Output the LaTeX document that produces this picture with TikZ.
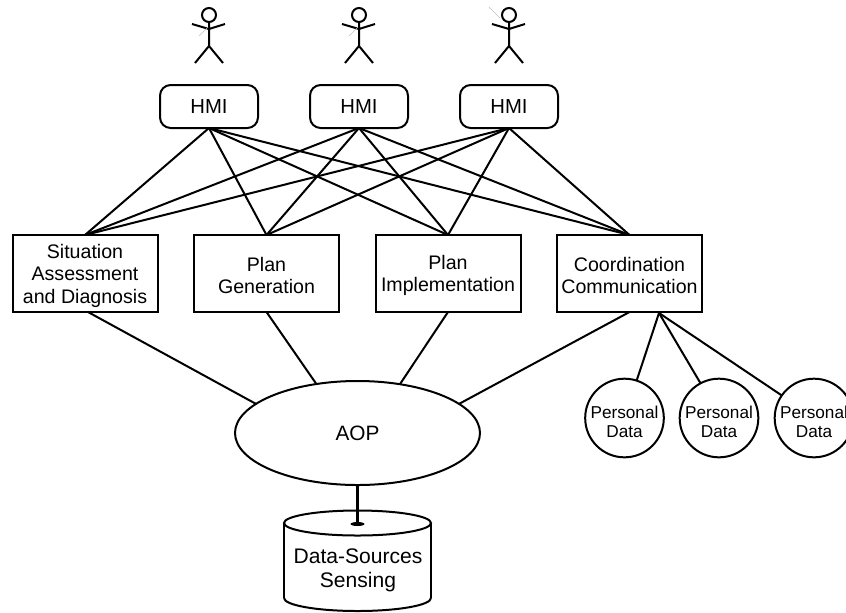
\documentclass[tikz,border=0pt]{standalone}
\usepackage{fontspec}
\setmainfont{Liberation Sans}
\usetikzlibrary{shapes.geometric,calc}
\def\px{0.75pt}
\newcommand\funcgap{\rule{0pt}{14pt}}
\newcommand\storegap{\rule{0pt}{15pt}}
\tikzset{
  link/.style={line width=1.5pt},
  hmibox/.style={draw,line width=1.5pt,rounded corners=8pt,minimum width=98*\px,minimum height=43*\px,inner sep=0pt,outer sep=0pt,font=\fontsize{15.2}{17}\selectfont},
  func/.style={draw,line width=1.5pt,minimum width=145*\px,minimum height=77*\px,inner sep=0pt,outer sep=0pt,align=center,font=\fontsize{14.7}{16.7}\selectfont},
  store/.style={draw,circle,line width=1.5pt,minimum size=78*\px,inner sep=0pt,outer sep=0pt,align=center,font=\fontsize{12.9}{14.8}\selectfont},
  hub/.style={draw,ellipse,line width=1.5pt,minimum width=245*\px,minimum height=104*\px,inner sep=0pt,outer sep=0pt,font=\fontsize{15.6}{18}\selectfont},
  cyltext/.style={inner sep=0pt,align=center,font=\fontsize{15.8}{18}\selectfont},
  person/.pic={
    \draw[line width=1.5pt] (0,15) circle[radius=7];
    \draw[line width=1.5pt] (0,22) -- (0,46) (-17,24) -- (0,29) -- (16,24) (-14,63) -- (0,46) -- (14,63);
  }
}
\begin{document}
\begin{tikzpicture}[x=0.75pt,y=-0.75pt]
\useasboundingbox (0,0) rectangle (846,612);
% stick figures
\pic at (209,0) {person};
\pic at (359,0) {person};
\pic at (509,0) {person};
\draw[black!25,line width=0.5pt] (199,36) -- (208,27);
\draw[black!25,line width=0.5pt] (349,36) -- (358,27);
\draw[black!25,line width=0.5pt] (489,7) -- (500,18);
% nodes
\node[hmibox] (h1) at (209,106.5) {HMI};
\node[hmibox] (h2) at (359,106.5) {HMI};
\node[hmibox] (h3) at (509,106.5) {HMI};
\node[func] (s) at (85,273.5) {\funcgap Situation\\Assessment\\and Diagnosis};
\node[func] (g) at (266.5,273.5) {\funcgap Plan\\Generation};
\node[func] (i) at (448,273.5) {\funcgap Plan\\Implementation};
\node[func] (c) at (629.5,273.5) {\funcgap Coordination\\Communication};
\node[hub] (aop) at (357.5,433) {AOP};
\node[store] (p1) at (624.5,418) {\storegap Personal\\Data};
\node[store] (p2) at (719,418) {\storegap Personal\\Data};
\node[store] (p3) at (814,418) {\storegap Personal\\Data};
\coordinate (cc) at (659,313);
% HMI to functions
\foreach \a in {h1,h2,h3}
  \foreach \b in {s,g,i,c}
    \draw[link] (\a.south) -- (\b.north);
% functions to AOP
\draw[link] ([xshift=2.25pt]s.south) -- (aop.164);
\draw[link] (g.south) -- (aop.130);
\draw[link] (i.south) -- (aop.49);
\draw[link] (c.south) -- (aop.16);
% personal data
\draw[link] (cc) -- (p1.72);
\draw[link] (cc) -- (p2.118);
\draw[link] (cc) -- (p3.145);
% data source cylinder
\draw[line width=2pt] (284,523) -- (284,598) (431,523) -- (431,598);
\draw[line width=1.5pt] (357.5,523) ellipse[x radius=73.5,y radius=12.5];
\draw[line width=1.5pt] (284,598) arc[start angle=180,end angle=0,x radius=73.5,y radius=13];
\fill (357.5,524) ellipse[x radius=7,y radius=2];
\coordinate (disk) at (357.5,524);
\draw[line width=2.2pt] (aop.south) -- (disk);
\node[cyltext] (d) at (358,570) {Data-Sources\\Sensing};
\end{tikzpicture}
\end{document}
